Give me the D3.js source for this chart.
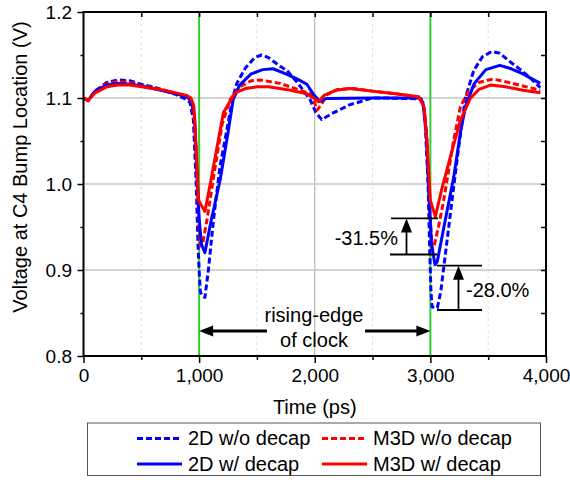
<!DOCTYPE html>
<html><head><meta charset="utf-8">
<script src="https://cdn.jsdelivr.net/npm/d3@7"></script>
<style>body{margin:0;background:#fff}svg{display:block;font-family:"Liberation Sans",Arial,sans-serif}</style>
</head><body><svg id="c" width="570" height="480"></svg>
<script>
const xTicks = [0, 1000, 2000, 3000, 4000];
const yTicks = [0.8, 0.9, 1.0, 1.1, 1.2];
const clockEdges = [1000, 3000];
const seriesNames = ["2D w/o decap", "M3D w/o decap", "2D w/ decap", "M3D w/ decap"];

const d2DNoDecap = [[0,1.100],[40,1.097],[100,1.108],[200,1.118],[300,1.121],[400,1.120],[500,1.116],[600,1.113],[700,1.109],[800,1.104],[880,1.099],[920,1.095],[950,1.075],[975,1.0],[990,0.93],[1000,0.90],[1010,0.875],[1025,0.870],[1050,0.868],[1080,0.90],[1124,0.958],[1180,1.02],[1240,1.063],[1290,1.100],[1326,1.117],[1400,1.135],[1480,1.147],[1540,1.150],[1600,1.147],[1700,1.137],[1760,1.132],[1850,1.118],[1960,1.098],[2010,1.083],[2060,1.075],[2150,1.082],[2300,1.092],[2500,1.100],[2600,1.100],[2920,1.099],[2950,1.085],[2980,1.0],[2995,0.92],[3005,0.875],[3015,0.857],[3060,0.856],[3090,0.875],[3145,0.935],[3200,0.995],[3245,1.043],[3303,1.100],[3375,1.132],[3450,1.148],[3530,1.154],[3600,1.152],[3700,1.141],[3750,1.136],[3850,1.125],[3950,1.112]];
const dM3DNoDecap = [[0,1.100],[40,1.097],[100,1.108],[200,1.117],[300,1.119],[400,1.118],[500,1.115],[600,1.112],[700,1.108],[800,1.105],[900,1.102],[935,1.095],[960,1.075],[985,1.0],[1000,0.95],[1010,0.928],[1030,0.930],[1070,0.960],[1121,1.005],[1200,1.070],[1268,1.098],[1350,1.113],[1450,1.120],[1530,1.121],[1700,1.117],[1960,1.105],[1990,1.098],[2020,1.086],[2060,1.093],[2106,1.104],[2200,1.110],[2336,1.111],[2500,1.108],[2700,1.105],[2900,1.101],[2945,1.090],[2970,1.050],[2995,0.970],[3015,0.925],[3035,0.930],[3070,0.950],[3115,0.981],[3200,1.050],[3260,1.090],[3330,1.108],[3420,1.118],[3540,1.122],[3650,1.119],[3800,1.114],[3950,1.109]];
const d2DDecap = [[0,1.100],[40,1.097],[100,1.108],[200,1.115],[300,1.117],[400,1.116],[500,1.114],[600,1.111],[700,1.108],[800,1.105],[900,1.101],[930,1.097],[960,1.080],[985,1.0],[1000,0.960],[1020,0.930],[1050,0.920],[1100,0.955],[1182,1.005],[1250,1.060],[1294,1.098],[1350,1.115],[1450,1.128],[1550,1.133],[1640,1.134],[1750,1.128],[1850,1.122],[1932,1.116],[1990,1.104],[2045,1.096],[2100,1.0995],[2500,1.100],[2900,1.100],[2935,1.095],[2965,1.060],[2990,0.980],[3010,0.930],[3040,0.906],[3060,0.910],[3110,0.945],[3202,1.008],[3260,1.060],[3303,1.090],[3380,1.117],[3480,1.133],[3600,1.138],[3700,1.134],[3800,1.128],[3950,1.117]];
const dM3DDecap = [[0,1.100],[40,1.097],[100,1.106],[200,1.113],[300,1.115],[400,1.115],[500,1.113],[600,1.111],[700,1.109],[800,1.106],[893,1.103],[930,1.100],[955,1.090],[975,1.040],[994,0.981],[1050,0.968],[1100,1.003],[1210,1.083],[1312,1.106],[1400,1.111],[1500,1.113],[1600,1.113],[1750,1.110],[1932,1.105],[1990,1.100],[2033,1.0957],[2080,1.103],[2180,1.109],[2300,1.111],[2500,1.108],[2700,1.105],[2899,1.1015],[2945,1.090],[2970,1.050],[3000,0.981],[3043,0.962],[3100,0.995],[3180,1.035],[3260,1.074],[3346,1.0997],[3420,1.110],[3519,1.115],[3650,1.113],[3800,1.109],[3952,1.106]];

const svg = d3.select("#c");
const L = 83.5, R = 546, T = 12, B = 356;
const x = d3.scaleLinear().domain([0, 4000]).range([L, R]);
const y = d3.scaleLinear().domain([0.8, 1.2]).range([B, T]);

// minor vertical dashed grid
const minorX = [500, 1500, 2500, 3500];
svg.append("g").selectAll("line").data(minorX).join("line")
  .attr("x1", d => x(d)).attr("x2", d => x(d)).attr("y1", T).attr("y2", B)
  .attr("stroke", "#d8d8d8").attr("stroke-width", 0.8).attr("stroke-dasharray", "3,3");
// major grid
svg.append("g").selectAll("line").data([2000]).join("line")
  .attr("x1", d => x(d)).attr("x2", d => x(d)).attr("y1", T).attr("y2", B)
  .attr("stroke", "#b8b8b8").attr("stroke-width", 1.2);
svg.append("g").selectAll("line").data([0.9, 1.0, 1.1]).join("line")
  .attr("x1", L).attr("x2", R).attr("y1", d => y(d)).attr("y2", d => y(d))
  .attr("stroke", "#c4c4c4").attr("stroke-width", 1.5);

// green clock edges
svg.append("g").selectAll("line").data(clockEdges).join("line")
  .attr("x1", d => x(d)).attr("x2", d => x(d)).attr("y1", T).attr("y2", B)
  .attr("stroke", "#33cc33").attr("stroke-width", 2);

// curves
const line = d3.line().x(d => x(d[0])).y(d => y(d[1]));
const series = [
  {name: seriesNames[0], data: d2DNoDecap, color: "#0000ff", dash: "6,3"},
  {name: seriesNames[1], data: dM3DNoDecap, color: "#ff0000", dash: "6,3"},
  {name: seriesNames[2], data: d2DDecap, color: "#0000ff", dash: null},
  {name: seriesNames[3], data: dM3DDecap, color: "#ff0000", dash: null}
];
svg.append("g").selectAll("path").data(series).join("path")
  .attr("d", d => line(d.data)).attr("fill", "none")
  .attr("stroke", d => d.color).attr("stroke-width", 3)
  .attr("stroke-dasharray", d => d.dash)
  .attr("stroke-linejoin", "round");

// axes
const fmtX = d3.format(",");
const gx = svg.append("g").attr("transform", `translate(0,${B})`)
  .call(d3.axisBottom(x).tickValues(xTicks).tickFormat(fmtX).tickSize(7).tickPadding(5.5));
const gxm = svg.append("g").attr("transform", `translate(0,${B})`)
  .call(d3.axisBottom(x).tickValues(minorX).tickFormat("").tickSize(4));
const gy = svg.append("g").attr("transform", `translate(${L},0)`)
  .call(d3.axisLeft(y).tickValues(yTicks).tickFormat(d3.format(".1f")).tickSize(6).tickPadding(5.5));
const minorY = [0.85, 0.95, 1.05, 1.15];
const gym = svg.append("g").attr("transform", `translate(${L},0)`)
  .call(d3.axisLeft(y).tickValues(minorY).tickFormat("").tickSize(3));
const gt = svg.append("g").attr("transform", `translate(0,${T})`)
  .call(d3.axisTop(x).tickValues([500,1000,1500,2000,2500,3000,3500]).tickFormat("").tickSizeInner(-5).tickSizeOuter(0));
const gr = svg.append("g").attr("transform", `translate(${R},0)`)
  .call(d3.axisRight(y).tickValues([0.85,0.9,0.95,1.0,1.05,1.1,1.15]).tickFormat("").tickSizeInner(-5).tickSizeOuter(0));
[gx, gxm, gy, gym, gt, gr].forEach(g => {
  g.select(".domain").remove();
  g.selectAll("line").attr("stroke", "#000").attr("stroke-width", 1.5);
  g.selectAll("text").attr("font-size", 19).attr("fill", "#000").attr("font-family", '"Liberation Sans",Arial,sans-serif');
});
svg.append("rect").attr("x", L).attr("y", T).attr("width", R - L).attr("height", B - T)
  .attr("fill", "none").attr("stroke", "#000").attr("stroke-width", 2);

// axis titles
svg.append("text").attr("x", (L + R) / 2).attr("y", 414).attr("text-anchor", "middle")
  .attr("font-size", 20).text("Time (ps)");
svg.append("text").attr("transform", `translate(27,167) rotate(-90)`)
  .attr("text-anchor", "middle").attr("font-size", 20).text("Voltage at C4 Bump Location (V)");

// annotations
function arrowHead(g, tx, ty, dir) {
  let pts;
  if (dir === "up") pts = [[tx, ty], [tx - 5.5, ty + 14], [tx + 5.5, ty + 14]];
  else if (dir === "left") pts = [[tx, ty], [tx + 14, ty - 5.5], [tx + 14, ty + 5.5]];
  else pts = [[tx, ty], [tx - 14, ty - 5.5], [tx - 14, ty + 5.5]];
  g.append("polygon").attr("points", pts.map(p => p.join(",")).join(" ")).attr("fill", "#000");
}
const ann = svg.append("g").attr("stroke", "#000").attr("stroke-width", 1.8);
// -31.5%
const a1Top = 0.960, a1Bot = 0.918;
ann.append("line").attr("x1", 391).attr("x2", 438).attr("y1", y(a1Top)).attr("y2", y(a1Top));
ann.append("line").attr("x1", 390).attr("x2", 437).attr("y1", y(a1Bot)).attr("y2", y(a1Bot));
ann.append("line").attr("x1", 406.5).attr("x2", 406.5).attr("y1", y(a1Bot)).attr("y2", y(a1Top) + 10);
arrowHead(ann, 406.5, y(a1Top), "up");
// -28.0%
const a2Top = 0.905, a2Bot = 0.8535;
ann.append("line").attr("x1", 437).attr("x2", 482).attr("y1", y(a2Top)).attr("y2", y(a2Top));
ann.append("line").attr("x1", 437).attr("x2", 482).attr("y1", y(a2Bot)).attr("y2", y(a2Bot));
ann.append("line").attr("x1", 458.5).attr("x2", 458.5).attr("y1", y(a2Bot)).attr("y2", y(a2Top) + 10);
arrowHead(ann, 458.5, y(a2Top), "up");
// rising-edge arrows
const ay = 331;
ann.append("line").attr("x1", 267).attr("x2", x(1000) + 10).attr("y1", ay).attr("y2", ay).attr("stroke-width", 3);
arrowHead(ann, x(1000), ay, "left");
ann.append("line").attr("x1", 365).attr("x2", x(3000) - 10).attr("y1", ay).attr("y2", ay).attr("stroke-width", 3);
arrowHead(ann, x(3000), ay, "right");
ann.selectAll("polygon").attr("stroke", "none");

const tAnn = svg.append("g").attr("font-size", 20).attr("fill", "#000");
tAnn.append("text").attr("x", 398).attr("y", 245).attr("text-anchor", "end").text("-31.5%");
tAnn.append("text").attr("x", 466).attr("y", 297).attr("text-anchor", "start").text("-28.0%");
tAnn.append("text").attr("x", 314).attr("y", 322).attr("text-anchor", "middle").text("rising-edge");
tAnn.append("text").attr("x", 314).attr("y", 347).attr("text-anchor", "middle").text("of clock");

// legend
const lg = svg.append("g");
lg.append("rect").attr("x", 87.5).attr("y", 423).attr("width", 453).attr("height", 52.5)
  .attr("fill", "#fff").attr("stroke", "#555").attr("stroke-width", 1);
const legPos = [[137, 438.5], [322, 438.5], [137, 464], [322, 464]];
series.forEach((s, i) => {
  const [lx, ly] = legPos[i];
  lg.append("line").attr("x1", lx).attr("x2", lx + 45).attr("y1", ly).attr("y2", ly)
    .attr("stroke", s.color).attr("stroke-width", 3).attr("stroke-dasharray", s.dash);
  lg.append("text").attr("x", lx + 51).attr("y", ly + 6.5).attr("font-size", 20).text(s.name);
});
</script></body></html>
